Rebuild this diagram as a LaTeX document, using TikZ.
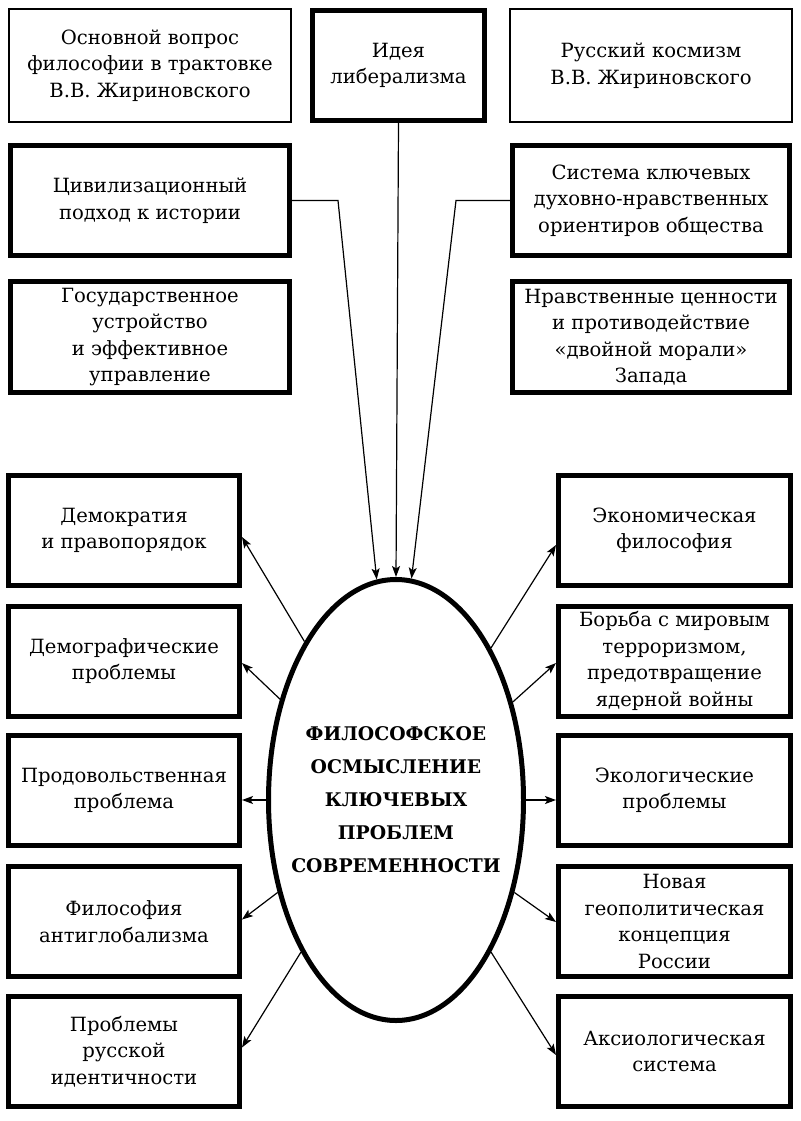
\documentclass[tikz,border=0pt]{standalone}
\usepackage{fontspec}
\setmainfont{DejaVu Serif}
\usepackage{tikz}
\usetikzlibrary{calc,shapes.geometric,arrows.meta,positioning}
\tikzset{
    thinbox/.style={rectangle, draw, line width=1.6pt, align=center, minimum width=282pt, minimum height=113pt, font=\fontsize{19.6}{26.5}\selectfont},
    box/.style={rectangle, draw, line width=5pt, align=center, minimum width=279pt, minimum height=110pt, font=\fontsize{19.6}{26.5}\selectfont},
    sidebox/.style={box, minimum width=231pt},
    core/.style={ellipse, draw, line width=5pt, align=center, minimum width=255pt, minimum height=441pt, inner xsep=-40pt, inner ysep=0pt, font=\bfseries\fontsize{18.8}{33}\selectfont},
    edge/.style={draw, line width=1.2pt, -{Stealth[length=11pt, width=8pt, inset=2.5pt]}},
    link/.style={draw, line width=1.2pt}
}

\begin{document}
\begin{tikzpicture}[x=1pt, y=-1pt]
    \useasboundingbox (0,0) rectangle (800,1121);
    % Nodes
    \node[thinbox] (osn) at (150,65.5) {Основной вопрос\\философии в трактовке\\В.В. Жириновского};
    \node[box, minimum width=172pt] (ideya) at (398.5,65.5) {Идея\\либерализма};
    \node[thinbox] (kosm) at (651,65.5) {Русский космизм\\В.В. Жириновского};

    \node[box] (civ) at (150,200.5) {Цивилизационный\\подход к истории};
    \node[box, minimum width=277pt] (sist) at (651,200.5) {Система ключевых\\духовно-нравственных\\ориентиров общества};
    \node[box, minimum height=111pt] (gos) at (150,337) {Государственное\\устройство\\и эффективное\\управление};
    \node[box, minimum width=277pt, minimum height=111pt] (nrav) at (651,337) {Нравственные ценности\\и противодействие\\«двойной морали»\\Запада};

    \node[core] (ell) at (396,800) {ФИЛОСОФСКОЕ\\ОСМЫСЛЕНИЕ\\КЛЮЧЕВЫХ\\ПРОБЛЕМ\\СОВРЕМЕННОСТИ};

    \node[sidebox] (dem) at (124,530.5) {Демократия\\и правопорядок};
    \node[sidebox] (demogr) at (124,661) {Демографические\\проблемы};
    \node[sidebox] (prod) at (124,790.5) {Продовольственная\\проблема};
    \node[sidebox] (antigl) at (124,921.5) {Философия\\антиглобализма};
    \node[sidebox] (ident) at (124,1051.5) {Проблемы\\русской\\идентичности};

    \node[sidebox, minimum width=232pt] (econ) at (674.5,530.5) {Экономическая\\философия};
    \node[sidebox, minimum width=232pt] (terr) at (674.5,661) {Борьба с мировым\\терроризмом,\\предотвращение\\ядерной войны};
    \node[sidebox, minimum width=232pt] (ekol) at (674.5,790.5) {Экологические\\проблемы};
    \node[sidebox, minimum width=232pt] (geo) at (674.5,921.5) {Новая\\геополитическая\\концепция\\России};
    \node[sidebox, minimum width=232pt] (aks) at (674.5,1051.5) {Аксиологическая\\система};

    % edges into the ellipse
    \draw[edge] (ideya.south) -- (ell.north);
    \draw[edge] (civ.east) -- ++(46,0) -- (ell.95);
    \draw[edge] (sist.west) -- ++(-54,0) -- (ell.86);

    % edges out of the ellipse
    \draw[edge] (ell.120) -- ($(dem.east)+(0,6.5)$);
    \draw[edge] (ell.139) -- ($(demogr.east)+(0,2)$);
    \draw[edge] (ell.west) -- (ell.west -| prod.east);
    \draw[edge] (ell.218) -- ($(antigl.east)+(0,-2)$);
    \draw[edge] (ell.238) -- ($(ident.east)+(0,-4)$);

    \draw[edge] (ell.58) -- ($(econ.west)+(0,14.5)$);
    \draw[edge] (ell.40) -- ($(terr.west)+(0,2)$);
    \draw[edge] (ell.east) -- (ell.east -| ekol.west);
    \draw[edge] (ell.-38) -- ($(geo.west)+(0,0.5)$);
    \draw[edge] (ell.-58) -- ($(aks.west)+(0,3.5)$);
\end{tikzpicture}
\end{document}
